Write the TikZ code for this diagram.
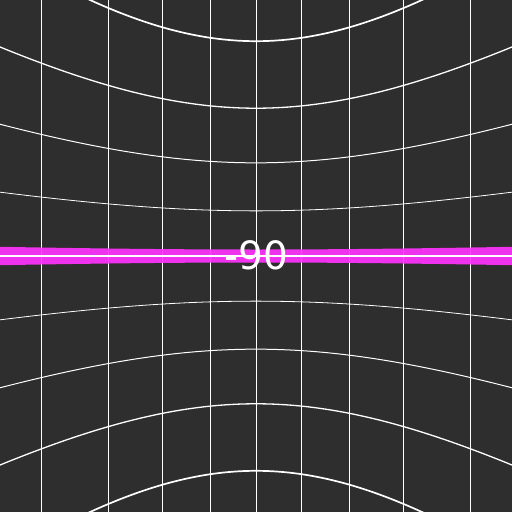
\documentclass[tikz,border=0pt]{standalone}
\usepackage{fontspec}
\setmainfont{DejaVu Sans}
\definecolor{ViewGray}{RGB}{46,46,46}
\definecolor{HorizonPink}{RGB}{255,51,255}

\begin{document}
\begin{tikzpicture}[x=1pt,y=1pt]
  \fill[ViewGray] (-256,-256) rectangle (256,256);
  \useasboundingbox (-256,-256) rectangle (256,256);
  \clip (-256,-256) rectangle (256,256);
  % meridians
  \foreach \lon in {-40,-30,...,40}
    \draw[white,line width=0.9] ({256*tan(\lon)},-256)--({256*tan(\lon)},256);
  % parallels
  \foreach \lat/\w in {-40/1.7,-30/1.3,-20/1.0,-10/0.8,10/0.8,20/1.0,30/1.3,40/1.7}
    \draw[white,line width=\w] plot[domain=-46:46,samples=60,smooth]
      ({256*tan(\x)},{256*tan(\lat)/cos(\x)});
  % horizon
  \fill[HorizonPink,opacity=0.92] plot[domain=-46:46,samples=40]
      ({256*tan(\x)},{6.5/cos(\x)})
    -- plot[domain=46:-46,samples=40] ({256*tan(\x)},{-6.5/cos(\x)}) -- cycle;
  \draw[white,line width=1.4] (-256,0)--(256,0);
  \node[white,font=\fontsize{39}{39}\selectfont,inner sep=0] (heading) at (0,0.5) {-90};
\end{tikzpicture}
\end{document}
